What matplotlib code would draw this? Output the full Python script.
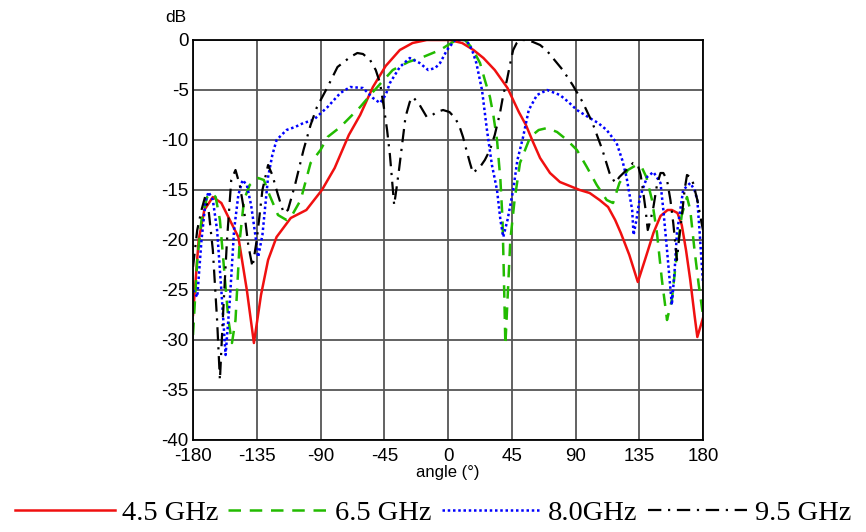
import matplotlib
matplotlib.use("Agg")
import matplotlib.pyplot as plt

# angle (deg) / level (dB)
ang_45 = [-180, -176, -172, -166, -160, -154, -148, -142, -137, -132, -127, -121, -111, -100,
          -89, -80, -70, -62, -53, -44, -34, -25, -15, -5, 1, 10, 18, 25, 33, 42, 50, 55, 60,
          65, 72, 79, 86, 93, 100, 107, 113, 118, 122, 128, 134, 139, 145, 150, 155, 158, 162,
          165, 168, 171, 174, 176, 180]
db_45 = [-27.5, -20, -17, -15.7, -16.3, -18, -19.7, -25, -30.3, -25.5, -22, -19.7, -17.8, -17,
         -15, -12.8, -9.5, -7.5, -4.7, -2.6, -1, -0.3, 0, 0, 0, -0.3, -1, -1.8, -3, -4.8, -7.2,
         -8.5, -10.2, -11.8, -13.3, -14.2, -14.6, -15, -15.3, -16, -16.7, -18, -19.3, -21.5,
         -24.2, -22, -19.3, -17.6, -17, -17, -17.3, -18.5, -21, -24, -27.5, -29.7, -27.8]

ang_65 = [-180, -177, -174, -170, -167, -164, -161, -158, -155, -152.5, -150, -147, -144, -140,
          -134, -130, -126, -120, -114, -110, -104, -97, -90, -85, -76, -62, -53, -39, -28,
          -17.6, -5.6, 0, 6, 12, 17, 22.6, 26, 29.6, 32, 34.6, 37, 38.5, 39.5, 40.5, 42, 44,
          47, 50.8, 58, 64, 70, 77, 84, 91, 98, 105, 112, 116.5, 121, 127, 133, 137, 140, 144,
          147.5, 151, 154.6, 158, 161.6, 165, 168.7, 171, 174, 177, 180]
db_65 = [-29.5, -22, -18, -15.7, -15.3, -15.7, -18, -23, -28, -30.3, -28, -20, -16, -14.5,
         -13.8, -14, -15.5, -17.5, -18, -17.5, -16, -12.3, -11, -9.7, -8.7, -6.7, -5.2, -3,
         -2.2, -1.7, -1, -0.5, 0, 0, -0.8, -2.3, -4, -5.7, -7.5, -10, -14, -18, -24, -30.5,
         -26, -20, -16, -12.3, -9.7, -9, -8.8, -9.2, -10, -11, -12.7, -14.5, -16, -16.3,
         -14.3, -13, -12.5, -12.8, -13.7, -16, -19.3, -24, -28, -26, -21.3, -17.5, -15.7,
         -17, -21, -24.5, -27.5]

ang_80 = [-180, -177, -174, -171, -169, -166, -163, -160, -157, -154, -151, -148, -145, -142,
          -139, -136, -134, -131, -127, -124, -121, -114, -108, -102, -95, -85, -76, -69, -60,
          -53, -48, -44, -41, -34, -27, -20, -14, -9, -5.6, -0.7, 5, 9, 13, 17, 20, 24, 27.5,
          31, 34.6, 37, 39, 42, 46, 49, 53, 57, 62.8, 70, 79, 85, 91, 100, 106, 112, 119, 123,
          126, 130, 131, 133, 135.5, 140.5, 145, 150, 152, 154.6, 158, 160, 161.6, 166, 171,
          174, 176, 178, 180]
db_80 = [-25, -25.7, -20, -16, -15.2, -16, -19, -25, -31.5, -26, -19, -15.5, -14, -14.5,
         -16.5, -19.5, -21.7, -19.5, -13.7, -11.5, -10, -9, -8.7, -8.3, -8, -6.7, -5.3, -4.7,
         -4.8, -5.8, -6.3, -5.5, -4.3, -2.7, -1.8, -2.3, -3, -2.8, -2.3, -1, 0, 0, 0, -1, -2.3,
         -5, -9, -12.5, -15, -18, -19.7, -18, -15, -12, -9.7, -7, -5.5, -5, -5.5, -6.2, -7,
         -7.8, -8.3, -9, -10.3, -12, -13.7, -17, -19.5, -18, -15.7, -13.7, -13.2, -14.3, -17,
         -21, -26.5, -23, -19.3, -15, -14.3, -15, -16, -20, -24.3]

ang_95 = [-180, -177, -174, -171.5, -169, -166, -163, -161, -159, -156, -153, -150, -147, -144,
          -141, -138, -135, -131, -127, -124, -120, -116, -113, -108, -102, -97, -92.5, -85,
          -78, -69, -64, -60, -55, -51, -48, -45.5, -43, -41, -39.5, -38, -36.5, -34.6, -32,
          -30, -27, -24.7, -20, -15, -11, -8, -3.5, 1, 5, 8, 10.6, 13, 15.5, 17.6, 20, 22.6,
          26, 29.6, 33, 36.7, 39, 41.6, 44, 46, 48.5, 50.8, 55.8, 60, 65, 70, 74, 81, 88, 95,
          102, 109, 114, 118, 121, 126, 130.6, 134, 136, 137.6, 139.5, 141, 143, 145, 147.5,
          150, 152, 154.6, 157, 159, 161.6, 163, 165, 167, 168.7, 171, 173, 176, 179, 180]
db_95 = [-22.7, -19, -17, -15.7, -17, -21, -28, -34, -28, -20, -14, -13, -14.5, -17, -20.5,
         -22.7, -20, -15, -12.5, -13.5, -15.5, -17.3, -17, -14.5, -11, -8.5, -6.7, -4.7, -2.7,
         -1.7, -1.3, -1.4, -2, -3, -4.3, -6.5, -9, -11.5, -14, -16.5, -15, -13, -10, -7.7,
         -6.2, -5.7, -6.5, -7.7, -7.5, -7.2, -7, -7.2, -7.8, -8.6, -9.7, -11, -12.3, -13.3,
         -13, -12.7, -12, -11, -9.5, -7.3, -5.5, -4, -2.3, -1, -0.3, 0, 0, -0.2, -0.5, -1.1,
         -1.8, -3, -4.5, -6.2, -8.3, -11, -13.3, -14.3, -13.7, -13, -12.3, -12.5, -13.5, -15,
         -17, -19, -18, -16.7, -14.5, -13.3, -13.3, -14, -16, -18.3, -22, -20, -17.7, -15,
         -13.5, -13.7, -14.3, -16, -18.3, -19]

labels = ["4.5 GHz", "6.5 GHz", "8.0GHz", "9.5 GHz"]
xticks = [-180, -135, -90, -45, 0, 45, 90, 135, 180]
yticks = [0, -5, -10, -15, -20, -25, -30, -35, -40]

plt.rcParams['font.family'] = ['Liberation Sans', 'DejaVu Sans']

fig = plt.figure(figsize=(8.66, 5.32), dpi=100)
ax = fig.add_axes([193/866, 1-440/532, 510/866, 400/532])

ax.plot(ang_45, db_45, color='#f01010', lw=1.8, label=labels[0])
ax.plot(ang_65, db_65, color='#22bb00', lw=1.8, dashes=(5, 3.5), label=labels[1])
ax.plot(ang_80, db_80, color='#0000ff', lw=1.8, linestyle=(0, (1, 1.1)), label=labels[2])
ax.plot(ang_95, db_95, color='black', lw=1.6, linestyle=(0, (6, 3, 1, 3)), label=labels[3])

ax.set_xlim(-180, 180)
ax.set_ylim(-40, 0)
ax.set_xticks(xticks)
ax.set_yticks(yticks)
ax.set_xticklabels([str(t) for t in xticks])
ax.set_yticklabels([str(t) for t in yticks])
ax.tick_params(length=0, labelsize=13.5)
ax.tick_params(axis='x', pad=6)
ax.tick_params(axis='y', pad=3)
ax.grid(True, color='#555555', lw=1.3)
ax.set_axisbelow(True)
for s in ax.spines.values():
    s.set_linewidth(1.3)

ax.set_xlabel("angle (°)", fontsize=12, labelpad=0)
fig.text(176/866, 1-18/532, "dB", fontsize=12.5, ha='center', va='center')

fig.legend(loc='center', bbox_to_anchor=(0.5, 1-513/532), ncol=4, frameon=False,
           prop={'family': 'Liberation Serif', 'size': 20.5},
           handlelength=3.5, handletextpad=0.25, columnspacing=0.35, borderpad=0,
           borderaxespad=0)

fig.savefig("out.png", dpi=100)
